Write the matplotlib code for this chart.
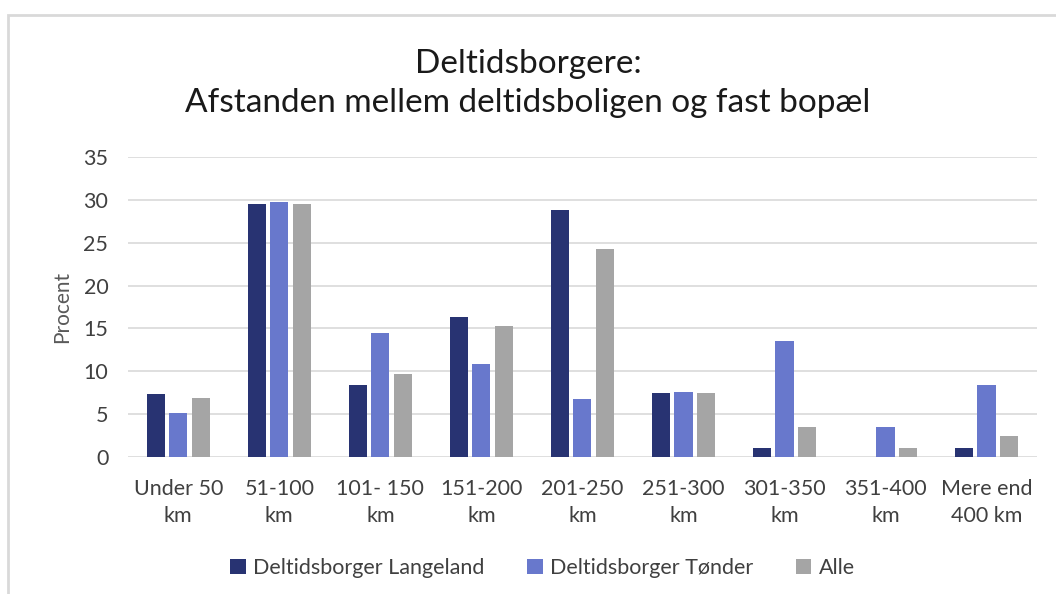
import numpy as np
import matplotlib.pyplot as plt
from matplotlib.patches import Rectangle

plt.rcParams['font.family'] = ['Lato', 'DejaVu Sans']

# Data
categories = ['Under 50\nkm', '51-100\nkm', '101- 150\nkm', '151-200\nkm', '201-250\nkm',
              '251-300\nkm', '301-350\nkm', '351-400\nkm', 'Mere end\n400 km']
langeland = [7.3, 29.5, 8.4, 16.3, 28.8, 7.5, 1.0, 0.0, 1.0]
tonder = [5.1, 29.7, 14.5, 10.9, 6.8, 7.6, 13.5, 3.5, 8.4]
alle = [6.9, 29.5, 9.7, 15.3, 24.3, 7.5, 3.5, 1.0, 2.4]

series_names = ['Deltidsborger Langeland', 'Deltidsborger Tønder', 'Alle']
colors = ['#283372', '#6878CC', '#A5A5A5']

fig = plt.figure(figsize=(10.56, 5.94), dpi=100)
ax = fig.add_axes([0.121, 0.2306, 0.861, 0.5051])

x = np.arange(len(categories))
width = 0.18
step = 0.222
for i, (vals, name, c) in enumerate(zip([langeland, tonder, alle], series_names, colors)):
    ax.bar(x + (i - 1) * step, vals, width, color=c, label=name, zorder=3)

ax.set_xlim(-0.5, len(categories) - 0.5)
ax.set_ylim(0, 35)
ax.set_yticks(range(0, 36, 5))
ax.set_xticks(x)
ax.set_xticklabels(categories, fontsize=15.5, color='#404040', linespacing=1.45)
ax.tick_params(axis='y', labelsize=15.5, labelcolor='#404040', length=0, pad=14)
ax.tick_params(axis='x', length=0, pad=16)
ax.grid(axis='y', color='#D9D9D9', linewidth=1.2, zorder=0)
for s in ax.spines.values():
    s.set_visible(False)
ax.set_ylabel('Procent', fontsize=15, color='#595959', labelpad=8)

fig.text(0.5, 0.893, 'Deltidsborgere:', ha='center', va='center', fontsize=24, color='#1a1a1a')
fig.text(0.5, 0.826, 'Afstanden mellem deltidsboligen og fast bopæl', ha='center', va='center',
         fontsize=24, color='#1a1a1a')

leg = fig.legend(loc='center', bbox_to_anchor=(0.514, 0.043), ncol=3, frameon=False,
                 fontsize=15.5, handlelength=0.7, handleheight=0.7, columnspacing=2.0,
                 handletextpad=0.35)
for t in leg.get_texts():
    t.set_color('#404040')

# light frame around the chart
fig.add_artist(Rectangle((0.008, -0.01), 1.1, 0.985, transform=fig.transFigure,
                         fill=False, edgecolor='#D9D9D9', linewidth=2))

fig.savefig('out.png', dpi=100)
